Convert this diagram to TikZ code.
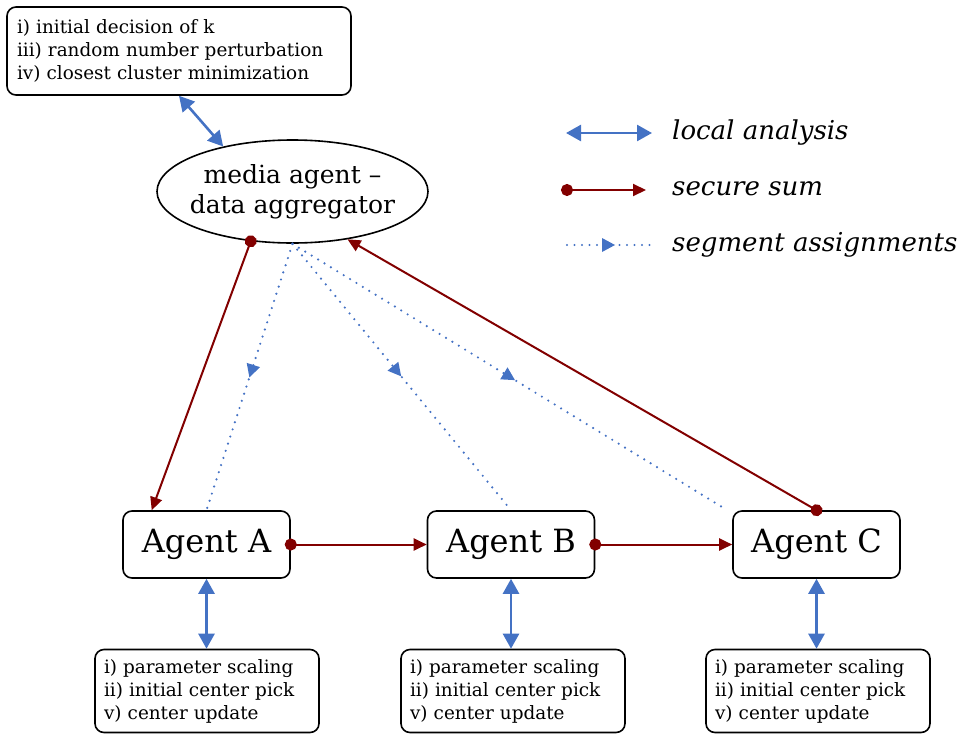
\documentclass[tikz,border=0pt]{standalone}
\usepackage{fontspec}
\setmainfont{DejaVu Serif}
\usetikzlibrary{arrows.meta,shapes.geometric,decorations.markings,calc}
\definecolor{lablue}{RGB}{68,114,196}
\definecolor{ssred}{RGB}{130,0,0}
\tikzset{
  box/.style={draw=black, line width=1.6pt, rounded corners=9pt},
  agentbox/.style={box, inner sep=0pt, minimum width=167pt, minimum height=67pt, font=\fontsize{32}{36}\selectfont},
  taskbox/.style={box, inner xsep=9pt, inner ysep=0pt, text width=#1, minimum height=83pt, align=left,
    font=\fontsize{18.4}{23}\selectfont},
  localarrow/.style={draw=lablue, line width=2.6pt, {Triangle[length=15pt,width=16pt]}-{Triangle[length=15pt,width=16pt]}},
  securearrow/.style={draw=ssred, line width=2pt, shorten <=-6pt, {Circle[length=12pt]}-{Triangle[length=13pt,width=12pt]}},
  segarrow/.style={draw=lablue, line width=2.4pt, line cap=round, dash pattern=on 0pt off 7.5pt,
    decoration={markings, mark=at position #1 with {\fill[lablue] (6pt,0) -- (-7pt,7pt) -- (-7pt,-7pt) -- cycle;}},
    postaction={decorate}},
  legendtext/.style={anchor=west, font=\fontsize{26}{30}\selectfont\itshape, inner sep=0pt}
}
\begin{document}
\begin{tikzpicture}[x=1pt,y=-1pt]
\useasboundingbox (0,0) rectangle (963,739);

% coordinator and its local tasks
\node[taskbox=324pt, inner xsep=10pt, minimum height=88pt] (top) at (179,51)
  {i) initial decision of k\\iii) random number perturbation\\iv) closest cluster minimization};
\node[ellipse, draw=black, line width=1.6pt, minimum width=271pt, minimum height=103pt,
  inner xsep=-10pt, inner ysep=0pt, align=center, font=\fontsize{25}{30}\selectfont] (ell) at (292.5,191.5)
  {media agent –\\data aggregator};

% agents
\node[agentbox] (A) at (206.5,544.5) {Agent A};
\node[agentbox] (B) at (511,544.5) {Agent B};
\node[agentbox] (C) at (816.5,544.5) {Agent C};

% local task lists
\node[taskbox=206pt] (ta) at (207,691)
  {i) parameter scaling\\ii) initial center pick\\v) center update};
\node[taskbox=206pt] (tb) at (513,691)
  {i) parameter scaling\\ii) initial center pick\\v) center update};
\node[taskbox=206pt] (tc) at (818,691)
  {i) parameter scaling\\ii) initial center pick\\v) center update};

% local analysis links
\draw[localarrow] (top.south) -- (ell.147);
\draw[localarrow] (A.south) -- (A.south |- ta.north);
\draw[localarrow] (B.south) -- (B.south |- tb.north);
\draw[localarrow] (C.south) -- (C.south |- tc.north);

% segment assignments
\draw[segarrow=0.48] (ell.south) -- (A.north);
\draw[segarrow=0.48] (ell.south) -- (B.north);
\draw[segarrow=0.5] (ell.south) -- ($(C.north west)+(-5,0)$);

% secure sum ring
\coordinate (Ain) at ($(A.north west)!0.175!(A.north east)$);
\draw[securearrow] (ell.230.8) -- (Ain);
\draw[securearrow] (A.east) -- (B.west);
\draw[securearrow] (B.east) -- (C.west);
\draw[securearrow] (C.north) -- (ell.-41.7);

% legend
\coordinate (l1a) at (566,133); \coordinate (l1b) at (652,133);
\coordinate (l2a) at (567,190); \coordinate (l2b) at (646,190);
\coordinate (l3a) at (567,245); \coordinate (l3b) at (651,245);
\draw[localarrow] (l1a) -- (l1b);
\draw[securearrow] (l2a) -- (l2b);
\draw[segarrow=0.5] (l3a) -- (l3b);
\node[legendtext] (t1) at (672,133) {local analysis};
\node[legendtext] (t2) at (672,189) {secure sum};
\node[legendtext] (t3) at (672,245) {segment assignments};
\end{tikzpicture}
\end{document}
